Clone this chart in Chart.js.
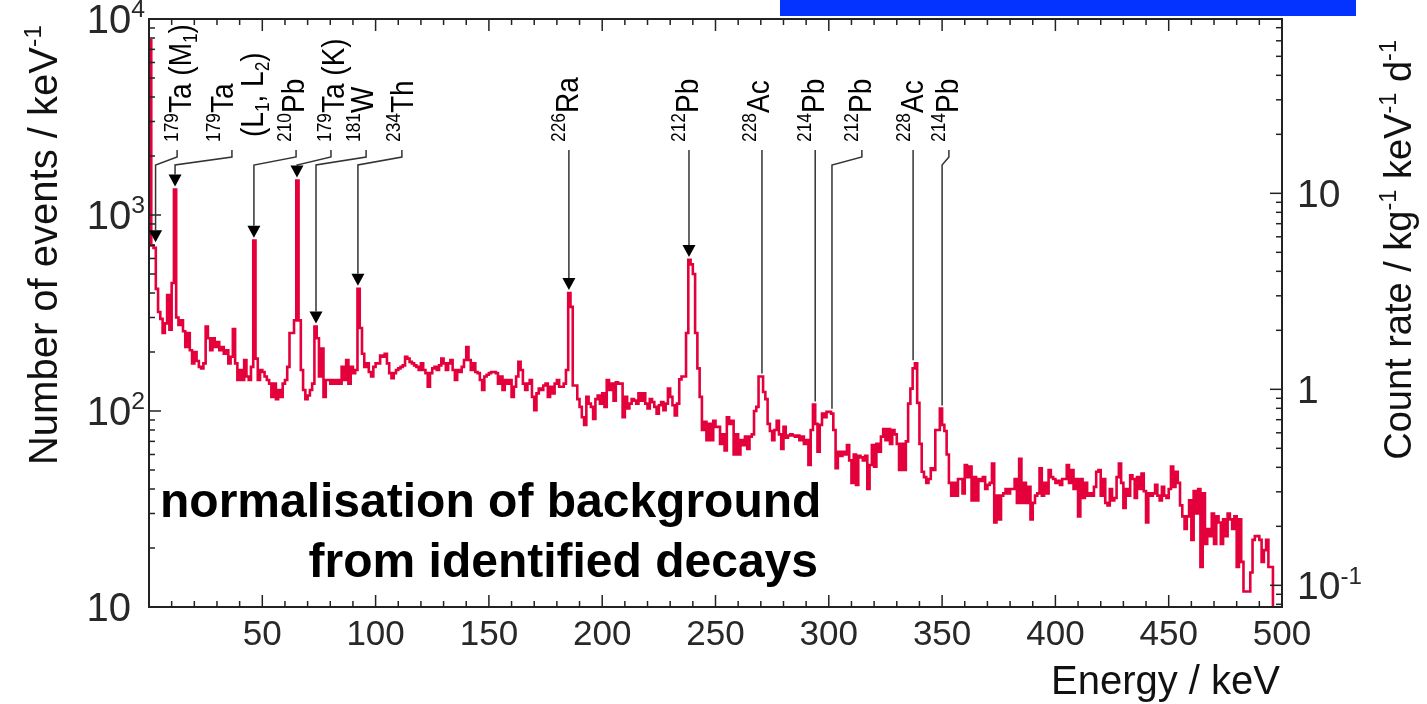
<!DOCTYPE html>
<html>
<head>
<meta charset="utf-8">
<script src="https://cdn.jsdelivr.net/npm/chart.js@4.4.1/dist/chart.umd.min.js"></script>
<style>
  html, body { margin: 0; padding: 0; background: #fff; }
  #wrap { width: 1427px; height: 704px; position: relative; }
</style>
</head>
<body>
<div id="wrap"><canvas id="spectrum"></canvas></div>
<script>
// events per 1 keV bin (bin i covers i..i+1 keV)
const counts000 = [
  7800, 700, 680, 420, 320, 295, 250, 280, 390, 260,
  450, 1350, 300, 275, 290, 255, 212, 250, 204, 175,
  200, 180, 168, 165, 175, 270, 235, 204, 235, 212,
  225, 204, 212, 196, 204, 175, 189, 262, 175, 144,
  162, 144, 182, 150, 144, 168, 740, 185, 144, 162,
  158, 150, 144, 138, 118, 138, 115, 128, 118, 138,
  144, 168, 250, 250, 290, 1500, 290, 162, 128, 115,
  120, 128, 138, 270, 235, 150, 208, 118, 144, 144,
  138, 144, 138, 144, 138, 168, 144, 182, 138, 168,
  156, 162, 420, 265, 196, 168, 175, 158, 150, 168
];
const counts100 = [
  175, 175, 192, 189, 196, 175, 156, 147, 156, 162,
  165, 168, 171, 189, 185, 178, 175, 171, 168, 162,
  175, 162, 156, 133, 156, 165, 168, 162, 171, 185,
  175, 162, 175, 182, 162, 144, 162, 158, 168, 182,
  212, 182, 162, 175, 158, 156, 144, 128, 150, 153,
  156, 158, 158, 156, 138, 150, 128, 144, 138, 144,
  118, 133, 150, 178, 162, 138, 128, 138, 144, 118,
  101, 123, 130, 128, 135, 138, 118, 133, 123, 138,
  144, 133, 133, 138, 162, 400, 340, 135, 135, 115,
  105, 93, 85, 118, 109, 105, 91, 115, 120, 109
];
const counts200 = [
  123, 105, 144, 128, 138, 113, 140, 138, 138, 93,
  118, 103, 109, 115, 113, 109, 123, 113, 123, 109,
  103, 115, 111, 105, 97, 107, 111, 101, 109, 130,
  118, 107, 95, 109, 145, 150, 150, 250, 590, 560,
  500, 250, 165, 118, 80, 88, 71, 86, 71, 89,
  83, 83, 68, 76, 63, 93, 86, 89, 60, 76,
  60, 71, 67, 74, 64, 74, 76, 100, 105, 150,
  150, 125, 115, 86, 79, 71, 80, 89, 76, 64,
  83, 73, 75, 76, 75, 74, 75, 71, 74, 68,
  71, 53, 80, 108, 86, 62, 85, 97, 93, 99
];
const counts300 = [
  99, 97, 80, 51, 62, 59, 62, 60, 67, 56,
  43, 60, 42, 59, 58, 56, 59, 40, 53, 67,
  52, 68, 62, 74, 81, 71, 81, 68, 80, 76,
  68, 50, 68, 50, 70, 109, 130, 165, 175, 110,
  68, 49, 46, 43, 45, 51, 50, 80, 80, 103,
  85, 79, 60, 43, 37, 43, 37, 45, 45, 38,
  53, 46, 52, 35, 46, 35, 45, 44, 46, 40,
  42, 43, 54, 27, 37, 28, 37, 38, 40, 38,
  40, 40, 45, 34, 57, 34, 43, 34, 41, 28,
  34, 37, 38, 51, 37, 43, 38, 50, 46, 45
];
const counts400 = [
  43, 44, 42, 45, 45, 53, 43, 50, 40, 45,
  29, 45, 36, 43, 37, 38, 37, 41, 49, 50,
  37, 45, 34, 33, 40, 35, 36, 46, 54, 43,
  32, 40, 37, 47, 45, 36, 46, 40, 48, 39,
  27, 38, 37, 38, 42, 37, 35, 41, 37, 36,
  40, 52, 41, 49, 43, 33, 29, 25, 29, 35,
  22, 39, 30, 40, 16, 38, 21, 25, 23, 30,
  21, 29, 27, 21, 28, 23, 30, 28, 25, 29,
  16, 28, 17, 12, 12, 12, 15, 22, 23, 23,
  22, 17, 19.5, 22, 16, 16, 8, 8, 8, 8
];

const energyTicks = [50, 100, 150, 200, 250, 300, 350, 400, 450, 500];
const eventTicks = [10, 100, 1000, 10000];
const rateTicks = [0.1, 1, 10];
const rateFactor = 1 / 129;   // count rate (kg^-1 keV^-1 d^-1) per event

// identified lines: label (^{} sup, _{} sub, | new column), energy pointed at, arrow or plain line
const decayNames = [
  '^{179}Ta (M_{1})', '^{179}Ta|(L_{1}, L_{2})', '^{210}Pb', '^{179}Ta (K)', '^{181}W', '^{234}Th',
  '^{226}Ra', '^{212}Pb', '^{228}Ac', '^{214}Pb', '^{212}Pb', '^{228}Ac', '^{214}Pb'
];
const decayEnergies = [2.9, 11.5, 46.3, 65.3, 73.7, 92.2, 185.3, 238.3, 270.5, 294, 301.4, 337.2, 350];
const decayArrows = [true, true, true, true, true, true, true, true, false, false, false, false, false];

// where each label column sits and where its leader starts (keV)
const labelColumns = [[13.7], [32.2, 45.5], [63.5], [81.2], [94], [111.6], [184.5], [237.4], [268.8], [293], [313.8], [336.7], [352.2]];
const leaderStarts = [12.4, 36.6, 64.9, 80.3, 95.8, 111.6, 185.3, 238.3, 270.5, 294, 314.6, 337.2, 353];

const counts = [].concat(counts000, counts100, counts200, counts300, counts400);
const points = counts.map((v, i) => ({ x: i, y: v }));
points.push({ x: counts.length, y: counts[counts.length - 1] });

const FONT = '"Liberation Sans", Arial, Helvetica, sans-serif';

function parseRich(s) {
  const parts = [];
  const re = /\^\{([^}]*)\}|_\{([^}]*)\}|([^^_]+)/g;
  let m;
  while ((m = re.exec(s))) {
    if (m[1] !== undefined) parts.push([m[1], 'sup']);
    else if (m[2] !== undefined) parts.push([m[2], 'sub']);
    else parts.push([m[3], '']);
  }
  return parts;
}

function richWidth(ctx, parts, size, weight) {
  let w = 0;
  for (const [t, k] of parts) {
    ctx.font = `${weight || ''} ${k ? size * 0.62 : size}px ${FONT}`;
    w += ctx.measureText(t).width;
  }
  return w;
}

function drawRich(ctx, parts, x, y, size, weight) {
  let cx = x;
  ctx.textAlign = 'left';
  ctx.textBaseline = 'alphabetic';
  for (const [t, k] of parts) {
    ctx.font = `${weight || ''} ${k ? size * 0.62 : size}px ${FONT}`;
    const dy = k === 'sup' ? -size * 0.4 : (k === 'sub' ? size * 0.18 : 0);
    ctx.fillText(t, cx, y + dy);
    cx += ctx.measureText(t).width;
  }
  return cx - x;
}

function line(ctx, x1, y1, x2, y2) {
  ctx.beginPath();
  ctx.moveTo(x1, y1);
  ctx.lineTo(x2, y2);
  ctx.stroke();
}

function expLabel(v) {
  const e = Math.round(Math.log10(v));
  if (e === 0) return [['1', '']];
  if (e === 1) return [['10', '']];
  return [['10', ''], [String(e), 'sup']];
}

const decorations = {
  id: 'decorations',
  afterDatasetsDraw(chart) {
    const ctx = chart.ctx;
    const a = chart.chartArea;
    const xs = chart.scales.x, ys = chart.scales.y, y2 = chart.scales.y2;
    ctx.save();

    // frame
    ctx.strokeStyle = '#222';
    ctx.lineWidth = 2;
    ctx.strokeRect(a.left, a.top, a.right - a.left, a.bottom - a.top);

    // energy ticks, bottom and top
    ctx.lineWidth = 1.5;
    for (let v = 0; v <= 500; v += 10) {
      const px = xs.getPixelForValue(v);
      const len = v % 50 === 0 ? 12 : 6;
      line(ctx, px, a.bottom, px, a.bottom - len);
      line(ctx, px, a.top, px, a.top + len);
    }
    // event ticks on the left
    for (let d = 10; d < 10000; d *= 10) {
      for (let m = 1; m <= 9; m++) {
        const py = ys.getPixelForValue(m * d);
        line(ctx, a.left, py, a.left + (m === 1 ? 12 : 6), py);
      }
    }
    // count-rate ticks on the right
    for (let e = -2; e <= 2; e++) {
      for (let m = 1; m <= 9; m++) {
        const v = m * Math.pow(10, e);
        if (v < y2.min || v > y2.max) continue;
        const py = y2.getPixelForValue(v);
        line(ctx, a.right, py, a.right - (m === 1 ? 12 : 6), py);
      }
    }

    // tick labels
    ctx.fillStyle = '#282828';
    ctx.textAlign = 'center';
    ctx.textBaseline = 'alphabetic';
    ctx.font = `35px ${FONT}`;
    energyTicks.forEach(v => ctx.fillText(String(v), xs.getPixelForValue(v), 645));

    eventTicks.forEach(v => {
      const parts = expLabel(v);
      const w = richWidth(ctx, parts, 40);
      const right = parts.length > 1 ? 145 : 131;
      drawRich(ctx, parts, right - w, ys.getPixelForValue(v) + 14, 40);
    });
    rateTicks.forEach(v => {
      const e = Math.round(Math.log10(v));
      const parts = e < 0 ? [['10', ''], [String(e), 'sup']] : expLabel(v);
      drawRich(ctx, parts, 1297, y2.getPixelForValue(v) + 14, 39);
    });

    // axis titles
    ctx.fillStyle = '#111';
    const leftTitle = parseRich('Number of events / keV^{-1}');
    let w = richWidth(ctx, leftTitle, 40);
    ctx.save();
    ctx.translate(57, 25 + w);
    ctx.rotate(-Math.PI / 2);
    drawRich(ctx, leftTitle, 0, 0, 40);
    ctx.restore();

    const rightTitle = parseRich('Count rate / kg^{-1} keV^{-1} d^{-1}');
    w = richWidth(ctx, rightTitle, 38);
    ctx.save();
    ctx.translate(1411, 40 + w);
    ctx.rotate(-Math.PI / 2);
    drawRich(ctx, rightTitle, 0, 0, 38);
    ctx.restore();

    ctx.font = `40px ${FONT}`;
    ctx.textAlign = 'right';
    ctx.fillText('Energy / keV', 1280, 694);

    // identified decays
    ctx.strokeStyle = '#333';
    ctx.lineWidth = 1.5;
    ctx.fillStyle = '#000';
    decayNames.forEach((name, i) => {
      const cols = name.split('|');
      cols.forEach((c, j) => {
        const parts = parseRich(c);
        const cx = xs.getPixelForValue(labelColumns[i][j]);
        ctx.save();
        ctx.translate(cx + 11, j === 0 ? 142 : 137);
        ctx.rotate(-Math.PI / 2);
        ctx.scale(1, 1.14);
        drawRich(ctx, parts, 0, 0, 28);
        ctx.restore();
      });
      const e = decayEnergies[i];
      let peak = 0;
      for (let b = Math.floor(e) - 1; b <= Math.floor(e) + 1; b++) peak = Math.max(peak, counts[b]);
      const tip = ys.getPixelForValue(peak) - 3;
      const xsPix = xs.getPixelForValue(leaderStarts[i]);
      const xt = xs.getPixelForValue(e);
      ctx.beginPath();
      ctx.moveTo(xsPix, 150);
      if (Math.abs(xsPix - xt) > 1.5) {
        ctx.lineTo(xsPix, 157);
        ctx.lineTo(xt, 165);
      }
      ctx.lineTo(xt, decayArrows[i] ? tip - 12 : tip);
      ctx.stroke();
      if (decayArrows[i]) {
        ctx.beginPath();
        ctx.moveTo(xt - 6.5, tip - 12);
        ctx.lineTo(xt + 6.5, tip - 12);
        ctx.lineTo(xt, tip);
        ctx.closePath();
        ctx.fill();
      }
    });

    // statement
    ctx.fillStyle = '#000';
    ctx.font = `bold 48px ${FONT}`;
    ctx.textAlign = 'left';
    ctx.fillText('normalisation of background', 160, 517);
    ctx.textAlign = 'right';
    ctx.fillText('from identified decays', 818, 577);

    // blue bar at top
    ctx.fillStyle = '#0433ff';
    ctx.fillRect(780, 0, 576, 16);

    ctx.restore();
  }
};

new Chart(document.getElementById('spectrum'), {
  type: 'line',
  data: {
    datasets: [{
      data: points,
      stepped: true,
      borderColor: '#e4003a',
      borderWidth: 2.6,
      pointRadius: 0,
      fill: false
    }]
  },
  options: {
    responsive: true,
    maintainAspectRatio: false,
    animation: false,
    devicePixelRatio: 1,
    layout: { autoPadding: false, padding: { left: 149, right: 145, top: 19, bottom: 97 } },
    plugins: { legend: { display: false }, tooltip: { enabled: false } },
    scales: {
      x: { type: 'linear', min: 0, max: 500, display: false },
      y: { type: 'logarithmic', min: 10, max: 10000, display: false },
      y2: { type: 'logarithmic', position: 'right', min: 10 * rateFactor, max: 10000 * rateFactor, display: false }
    }
  },
  plugins: [decorations]
});
</script>
</body>
</html>
